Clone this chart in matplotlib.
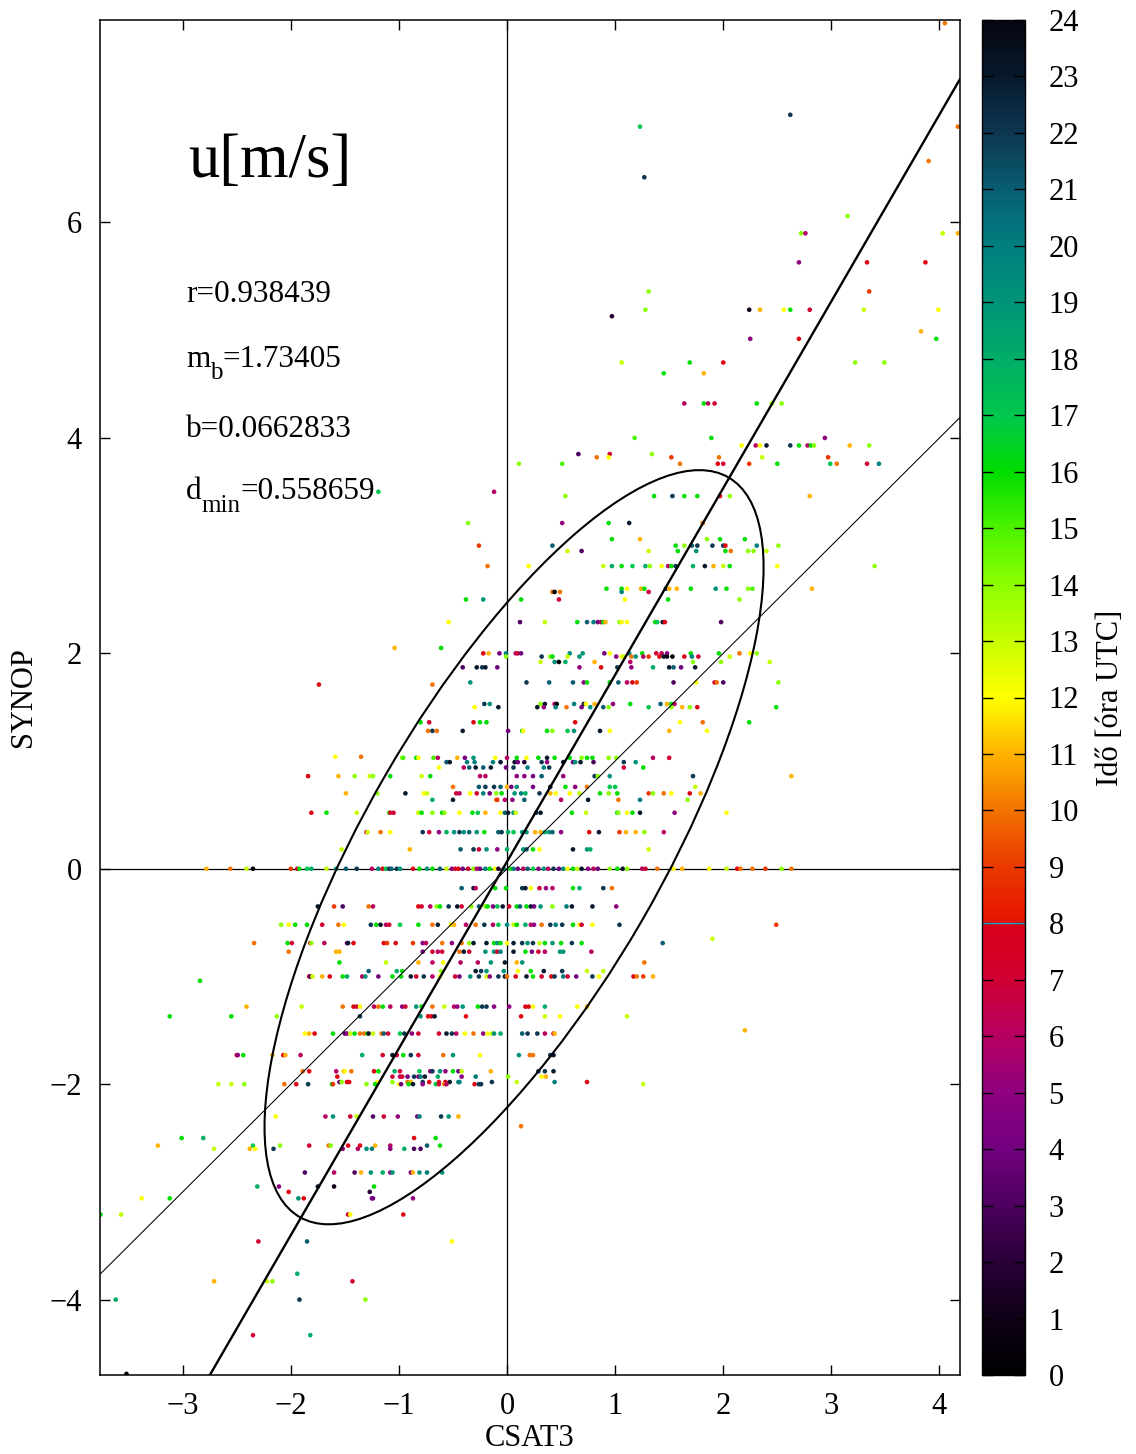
"""Scatter of CSAT3 vs SYNOP u wind component, coloured by hour of day."""

import numpy as np
import matplotlib
matplotlib.use("Agg")
import matplotlib.pyplot as plt
from matplotlib.cm import ScalarMappable
from matplotlib.colors import LinearSegmentedColormap, Normalize
from matplotlib.patches import Ellipse

plt.rcParams["font.family"] = ["Liberation Serif", "DejaVu Serif"]

# fit statistics
r_coef = 0.938439
m_b = 1.73405
b_icpt = 0.0662833
d_min = 0.558659

# spread ellipse of the point cloud (data units)
ell_center = (0.065, 0.2)
ell_width = 7.93
ell_height = 2.73
ell_angle = 60.0

# SYNOP values are quantised, so the points are stored row by row
synop_rows = [
    7.85, 7.0, 6.89, 6.57, 6.42, 6.06, 5.9, 5.63, 5.36, 5.19, 5.13, 4.99, 4.92, 4.7, 4.6, 4.32,
    4.0, 3.93, 3.85, 3.82, 3.76, 3.5, 3.46, 3.21, 3.06, 3.0, 2.95, 2.81, 2.6, 2.57, 2.5, 2.29,
    2.05, 2.0, 1.97, 1.92, 1.87, 1.73, 1.71, 1.53, 1.5, 1.36, 1.28, 1.04, 1.03, 0.99, 0.94,
    0.86, 0.76, 0.7, 0.64, 0.52, 0.34, 0.18, 0.0, -0.18, -0.35, -0.52, -0.65, -0.69, -0.77,
    -0.87, -0.95, -1.0, -1.04, -1.28, -1.37, -1.5, -1.53, -1.73, -1.88, -1.93, -1.98, -2.0,
    -2.3, -2.39, -2.5, -2.57, -2.6, -2.82, -2.95, -3.0, -3.06, -3.21, -3.46, -3.76, -3.83,
    -4.0, -4.33, -4.69,
]

csat3_rows = [
    [4.05],
    [2.62],
    [1.23, 4.17],
    [3.9],
    [1.27],
    [3.15],
    [2.72, 2.76, 4.03, 4.17],
    [2.7, 3.33, 3.87],
    [1.31, 3.35],
    [1.28, 2.24, 2.34, 2.56, 2.62, 2.8, 3.3, 3.99],
    [0.97],
    [3.83],
    [2.25, 2.7, 3.97],
    [1.06, 1.69, 2.0, 3.22, 3.49],
    [1.45, 1.82],
    [1.64, 1.82, 1.86, 1.92, 2.31, 2.45, 2.54],
    [1.18, 1.89, 2.94],
    [2.17, 2.3, 2.34, 2.4, 2.62, 2.7, 2.78, 2.81, 2.84, 3.17, 3.35],
    [0.66, 0.95, 1.34],
    [0.83, 0.94, 1.52, 1.96, 2.36, 2.97],
    [0.11, 0.51, 1.6, 1.95, 2.0, 2.24, 2.5, 2.99, 3.05, 3.33, 3.44],
    [-1.19, -0.12],
    [0.54, 1.36, 1.53, 1.64, 1.76, 1.97, 2.06, 2.8],
    [-0.36, 0.51, 0.94, 1.13, 1.81],
    [0.97, 1.23, 1.85, 1.97, 2.2],
    [-0.26, 0.42, 1.56, 1.64, 1.71, 1.76, 1.9, 2.0, 2.02, 2.31, 2.51],
    [0.56, 0.69, 1.31, 1.58, 1.75, 2.02, 2.07, 2.23, 2.28, 2.4],
    [-0.18, 0.2, 0.89, 0.97, 1.06, 1.16, 1.28, 1.32, 1.43, 1.49,
     1.52, 1.56, 1.72, 1.83, 1.91, 2.0, 2.06, 2.5, 3.4],
    [0.92, 1.06, 1.11, 1.24, 1.27, 1.47, 1.5, 1.57, 1.7, 1.93, 2.03, 2.23, 2.27, 2.82],
    [0.42, 0.44, 0.49, 1.06, 1.31],
    [-0.38, -0.22, 0.13, 0.48, 1.09, 1.49, 2.15],
    [-0.54, 0.12, 0.35, 0.65, 0.74, 0.8, 0.84, 0.87, 0.89, 0.91,
     1.04, 1.06, 1.11, 1.37, 1.39, 1.44, 1.46, 1.98],
    [-1.04, -0.61],
    [-0.22, -0.17, -0.07, -0.01, 0.08, 0.1, 0.13, 0.58, 0.7, 0.9,
     0.95, 1.13, 1.25, 1.38, 1.43, 1.48, 1.7, 1.96, 2.15, 2.25, 2.31],
    [-0.01, 0.32, 0.4, 0.42, 0.56, 0.67, 1.01, 1.06, 1.08, 1.15,
     1.19, 1.26, 1.31, 1.41, 1.45, 1.48, 1.53, 1.64, 1.71, 1.77, 2.06],
    [0.31, 0.44, 0.48, 0.54, 0.81, 1.14, 1.72, 1.98, 2.43],
    [-0.41, -0.28, -0.23, -0.2, -0.09, 0.67, 0.87, 1.02, 1.15, 1.35, 1.5, 1.54, 1.61, 1.74],
    [-0.34, 0.18, 0.39, 0.61, 0.71, 0.74, 0.95, 1.03, 1.11, 1.16,
     1.2, 1.54, 1.75, 1.92, 1.94, 2.0, 2.51],
    [-1.74, -0.69],
    [-0.21, -0.16, 0.31, 0.35, 0.44, 0.46, 0.62, 0.71, 0.73, 0.81,
     0.98, 1.14, 1.42, 1.48, 1.52, 1.55],
    [-0.3, -0.08, 0.28, 0.34, 0.45, 0.55, 0.69, 0.77, 0.89, 0.94,
     1.31, 1.52, 1.62, 1.69, 1.76, 2.49],
    [-0.8, -0.72, -0.31, -0.25, -0.19, 0.63, 1.6, 1.81, 2.24],
    [-0.73, -0.69, -0.65, -0.41, 0.01, 0.14, 0.15, 0.37, 0.42, 0.56,
     0.62, 0.86, 0.95, 1.5, 1.85],
    [-1.59, -1.35],
    [-0.97, -0.96, -0.84, -0.82, -0.68, -0.64, -0.46, -0.39, -0.31, -0.11,
     0.0, 0.09, 0.18, 0.29, 0.37, 0.44, 0.58, 0.69, 0.74, 0.79,
     0.94, 1.01, 1.35, 1.5],
    [-0.56, -0.53, -0.37, -0.3, -0.13, -0.06, 0.07, 0.1, 0.16, 0.32,
     0.37, 0.52, 0.61, 0.63, 0.68, 0.8, 1.08, 1.19],
    [-0.63, -0.4, -0.35, -0.29, -0.22, -0.15, -0.01, 0.06, 0.19, 0.34, 0.39, 1.08, 1.26],
    [-1.84, -1.56, -1.41, -1.27, -1.24, -1.08, -0.79, -0.71, -0.25, -0.2,
     0.09, 0.16, 0.24, 0.32, 0.52, 0.81, 0.84, 0.95, 1.72, 2.63],
    [-0.5, -0.26, -0.2, -0.12, -0.06, 0.0, 0.04, 0.09, 0.24, 0.4,
     0.54, 0.63, 0.74, 0.95, 1.0, 1.74],
    [-1.49, -1.2, -0.94, -0.77, -0.74, -0.47, -0.44, -0.34, -0.28, -0.22,
     -0.16, -0.1, -0.05, 0.07, 0.13, 0.17, 0.3, 0.4, 0.45, 0.58,
     0.67, 0.86, 0.94, 1.02, 1.31, 1.35, 1.45, 1.52, 1.69, 1.79],
    [-0.69, -0.5, -0.1, -0.09, -0.02, 0.05, 0.16, 0.5, 0.75, 1.03, 1.23, 1.67],
    [-1.81, -1.67, -1.39, -1.09, -1.08, -1.05, -0.82, -0.79, -0.69, -0.6,
     -0.58, -0.44, -0.32, -0.27, -0.2, -0.06, -0.02, 0.01, 0.06, 0.08,
     0.27, 0.31, 0.6, 0.73, 1.02, 1.03, 1.11, 1.16, 1.23, 1.55, 2.03],
    [-1.3, -1.29, -1.17, -1.08, -0.78, -0.72, -0.63, -0.56, -0.49, -0.44,
     -0.4, -0.35, -0.28, -0.21, -0.08, -0.05, 0.01, 0.06, 0.14, 0.18,
     0.26, 0.31, 0.35, 0.39, 0.42, 0.5, 0.76, 0.85, 1.04, 1.1,
     1.19, 1.27, 1.45],
    [-1.53, -0.9, -0.43, -0.31, -0.26, -0.19, -0.09, 0.0, 0.15, 0.18,
     0.24, 0.3, 0.61, 0.74, 0.77, 1.31],
    [-2.78, -2.56, -2.41, -2.35, -2.0, -1.94, -1.92, -1.85, -1.81, -1.67,
     -1.58, -1.49, -1.39, -1.25, -1.19, -1.15, -1.12, -1.09, -1.07, -1.02,
     -0.99, -0.87, -0.81, -0.74, -0.69, -0.62, -0.56, -0.51, -0.48, -0.45,
     -0.41, -0.36, -0.31, -0.28, -0.25, -0.2, -0.16, -0.11, -0.08, -0.03,
     0.03, 0.06, 0.1, 0.15, 0.19, 0.24, 0.29, 0.34, 0.38, 0.43,
     0.48, 0.52, 0.56, 0.61, 0.65, 0.69, 0.75, 0.8, 0.84, 0.95,
     1.02, 1.07, 1.11, 1.25, 1.28, 1.39, 1.54, 1.62, 1.87, 2.03,
     2.13, 2.16, 2.27, 2.39, 2.54, 2.63],
    [-0.42, -0.31, -0.29, -0.11, -0.01, 0.14, 0.17, 0.22, 0.3, 0.36,
     0.42, 0.61, 0.67, 0.89, 0.97],
    [-1.75, -1.6, -1.52, -1.28, -1.24, -0.82, -0.79, -0.71, -0.65, -0.62,
     -0.54, -0.46, -0.42, -0.33, -0.26, -0.2, -0.18, -0.13, -0.09, -0.04,
     0.02, 0.09, 0.12, 0.18, 0.22, 0.25, 0.31, 0.42, 0.55, 0.6,
     0.79, 1.01],
    [-2.09, -2.02, -1.96, -1.85, -1.71, -1.56, -1.51, -1.26, -1.21, -1.17,
     -1.12, -1.09, -0.99, -0.82, -0.69, -0.64, -0.52, -0.49, -0.38, -0.29,
     -0.21, -0.13, -0.08, 0.0, 0.06, 0.09, 0.17, 0.22, 0.25, 0.32,
     0.4, 0.45, 0.51, 0.61, 0.67, 0.69, 0.79, 1.04, 2.49],
    [1.9],
    [-2.34, -2.03, -1.99, -1.82, -1.81, -1.69, -1.48, -1.47, -1.42, -1.14,
     -1.11, -1.03, -0.87, -0.78, -0.75, -0.6, -0.51, -0.42, -0.35, -0.31,
     -0.19, -0.12, -0.09, -0.06, 0.0, 0.06, 0.14, 0.19, 0.24, 0.3,
     0.35, 0.42, 0.5, 0.6, 0.69, 1.44],
    [-2.02, -1.58, -1.55, -0.78, -0.69, -0.64, -0.6, -0.44, -0.4, -0.35,
     -0.2, -0.12, -0.09, -0.06, 0.06, 0.17, 0.23, 0.29, 0.35, 0.49,
     0.52, 0.78],
    [-1.55, -1.12, -0.82, -0.69, -0.59, -0.43, -0.27, -0.15, -0.02, 0.09, 0.14, 1.27],
    [-1.28, -1.02, -0.97, -0.61, -0.29, -0.24, -0.19, -0.03, 0.1, 0.22,
     0.34, 0.51, 0.74, 0.89],
    [-1.83, -1.82, -1.8, -1.71, -1.64, -1.52, -1.48, -1.34, -1.31, -1.19,
     -1.06, -0.98, -0.89, -0.84, -0.77, -0.69, -0.62, -0.48, -0.44, -0.34,
     -0.26, -0.19, -0.16, -0.08, -0.02, 0.0, 0.08, 0.18, 0.24, 0.32,
     0.41, 0.44, 0.52, 0.56, 0.64, 0.79, 0.85, 1.17, 1.2, 1.26,
     1.35],
    [-2.84],
    [-2.41, -1.9, -1.52, -1.42, -1.39, -1.36, -1.23, -1.19, -1.15, -1.08,
     -0.97, -0.94, -0.84, -0.79, -0.69, -0.58, -0.49, -0.46, -0.41, -0.27,
     -0.23, -0.19, -0.12, 0.02, 0.17, 0.2, 0.24, 0.35, 0.65, 0.74],
    [-3.12, -2.55, -2.13, -1.36, -0.8, -0.73, -0.7, -0.67, -0.38, 0.13, 0.35, 0.49, 1.11],
    [2.2],
    [-1.87, -1.83, -1.78, -1.61, -1.5, -1.48, -1.45, -1.41, -1.36, -1.32,
     -1.29, -1.28, -1.24, -1.16, -1.14, -1.1, -0.99, -0.95, -0.88, -0.82,
     -0.63, -0.56, -0.51, -0.47, -0.39, -0.31, -0.22, -0.18, -0.14, -0.12,
     -0.06, 0.14, 0.19, 0.28, 0.35, 0.43, 0.44],
    [-2.5, -2.49, -2.44, -2.17, -2.07, -2.05, -1.91, -1.34, -1.15, -1.06,
     -1.02, -0.96, -0.89, -0.82, -0.59, -0.5, -0.25, 0.11, 0.21, 0.24,
     0.4, 0.43],
    [-1.89, -1.83, -1.58, -1.51, -1.5, -1.44, -1.23, -1.19, -1.04, -0.99,
     -0.81, -0.71, -0.69, -0.62, -0.57, -0.5, -0.45, -0.42, -0.15, 0.29,
     0.35, 0.43],
    [-1.57, -1.06, -0.99, -0.97, -0.92, -0.86, -0.82, -0.8, -0.76, -0.64,
     -0.42, -0.29, 0.01, 0.32, 0.36],
    [-1.55, -1.53, -1.48, -1.46, -1.2, -1.06, -0.92, -0.89, -0.78, -0.72,
     -0.63, -0.57, -0.53, -0.45, -0.44, -0.14, 0.09, 0.44, 0.74],
    [-2.67, -2.55, -2.43, -2.06, -1.95, -1.84, -1.62, -1.61, -1.3, -1.22,
     -1.0, -0.98, -0.91, -0.87, -0.78, -0.66, -0.63, -0.58, -0.56, -0.3,
     -0.26, -0.24, 1.26],
    [-2.14, -1.68, -1.61, -1.45, -1.39, -1.24, -1.14, -1.01, -0.83, -0.81,
     -0.61, -0.54, -0.45],
    [0.13],
    [-3.01, -2.81, -0.86, -0.66],
    [-3.23, -2.35, -2.1, -1.83, -1.65, -1.63, -1.47, -1.36, -1.22, -1.08, -0.74, -0.62],
    [-2.71, -2.38, -2.33, -2.16, -1.52, -1.38, -1.3, -1.25, -1.08, -0.95, -0.86, -0.8],
    [-1.87, -1.6, -1.41, -1.35, -1.26, -1.15, -1.08, -1.06, -0.89, -0.87,
     -0.81, -0.74, -0.6],
    [-2.31, -2.11, -1.75, -1.6, -1.23],
    [-2.02, -1.27],
    [-3.38, -3.12, -1.93, -1.88, -1.25, -1.24, -0.87],
    [-3.76, -3.57, -1.47, -1.45, -0.96],
    [-2.3, -1.85, -0.51],
    [-1.94],
    [-2.71, -2.22, -2.17, -1.43],
    [-3.62, -1.92, -1.31],
    [-2.35, -1.82],
    [-3.52],
]

hour_rows = [
    [10],
    [22],
    [17, 10],
    [10],
    [22],
    [14],
    [14, 6, 13, 11],
    [5, 8, 8],
    [14, 9],
    [14, 1, 11, 12, 16, 7, 13, 12],
    [2],
    [11],
    [5, 8, 16],
    [13, 16, 8, 14, 14],
    [16, 11],
    [6, 16, 6, 7, 16, 14, 14],
    [15, 16, 5],
    [12, 6, 12, 23, 22, 16, 6, 16, 14, 11, 14],
    [3, 7, 14],
    [10, 12, 9, 10, 13, 9],
    [14, 15, 10, 8, 7, 9, 16, 17, 10, 7, 20],
    [17, 6],
    [14, 16, 22, 16, 16, 8, 14, 11],
    [14, 5, 16, 23, 10],
    [16, 11, 14, 16, 16],
    [9, 21, 16, 14, 21, 22, 22, 22, 8, 20, 14],
    [13, 3, 13, 16, 19, 16, 10, 14, 14, 13],
    [10, 12, 13, 18, 16, 17, 18, 14, 12, 6,
     16, 22, 18, 23, 11, 13, 16, 12, 14],
    [16, 16, 12, 11, 16, 22, 11, 11, 16, 19, 16, 14, 15, 11],
    [10, 0, 10, 20, 7],
    [16, 19, 16, 7, 12, 16, 14],
    [12, 3, 13, 16, 21, 20, 4, 6, 16, 11,
     14, 12, 12, 16, 17, 23, 8, 3],
    [11, 16],
    [8, 11, 4, 20, 6, 7, 4, 19, 19, 4,
     12, 20, 16, 7, 6, 5, 16, 16, 10, 12, 14],
    [14, 22, 14, 16, 13, 19, 5, 12, 13, 10,
     19, 6, 9, 8, 23, 1, 0, 8, 20, 7, 13],
    [13, 19, 0, 18, 11, 6, 14, 14, 13],
    [3, 23, 22, 23, 4, 5, 8, 22, 5, 18, 23, 21, 4, 23],
    [19, 22, 21, 21, 5, 16, 16, 21, 6, 8,
     9, 3, 12, 7, 10, 3, 14],
    [8, 10],
    [22, 19, 14, 23, 6, 0, 20, 23, 12, 11,
     5, 16, 21, 11, 16, 6],
    [12, 23, 23, 5, 20, 10, 4, 19, 21, 14,
     17, 14, 11, 14, 8, 16],
    [16, 7, 8, 16, 16, 8, 12, 10, 16],
    [10, 22, 10, 23, 4, 16, 12, 16, 14, 17,
     19, 23, 12, 11, 12],
    [12, 10],
    [14, 15, 16, 12, 15, 6, 11, 4, 19, 12,
     6, 16, 12, 16, 23, 16, 16, 14, 16, 16,
     14, 14, 6, 7],
    [21, 23, 20, 20, 20, 23, 23, 4, 2, 22,
     5, 23, 4, 19, 23, 3, 22, 19],
    [12, 6, 21, 23, 21, 23, 4, 22, 20, 20, 22, 7, 16],
    [8, 11, 14, 13, 14, 16, 13, 16, 6, 6,
     5, 5, 4, 21, 5, 22, 14, 19, 22, 11],
    [10, 21, 22, 22, 21, 11, 4, 19, 4, 23,
     16, 5, 10, 17, 17, 13],
    [11, 14, 23, 12, 13, 7, 6, 12, 7, 20,
     4, 14, 16, 19, 20, 18, 22, 11, 12, 12,
     13, 16, 14, 16, 9, 14, 10, 12, 8, 11],
    [18, 23, 10, 9, 6, 5, 21, 6, 23, 10, 20, 14],
    [8, 16, 13, 15, 7, 7, 13, 16, 14, 16,
     14, 12, 16, 17, 11, 12, 21, 23, 19, 13,
     22, 23, 16, 13, 16, 14, 12, 16, 23, 5, 12],
    [7, 13, 10, 12, 22, 7, 5, 18, 19, 22,
     19, 21, 19, 16, 21, 22, 18, 17, 19, 19,
     11, 11, 18, 19, 21, 5, 8, 23, 9, 11,
     11, 14, 6],
    [13, 11, 21, 22, 7, 19, 5, 18, 19, 21,
     16, 12, 23, 19, 18, 13],
    [11, 10, 13, 0, 9, 7, 16, 17, 18, 13,
     19, 21, 22, 6, 20, 8, 17, 22, 21, 22,
     19, 8, 16, 19, 16, 21, 13, 5, 7, 8,
     4, 7, 14, 6, 4, 20, 16, 12, 2, 19,
     16, 20, 4, 6, 21, 17, 5, 19, 6, 22,
     4, 19, 12, 16, 13, 23, 5, 6, 4, 14,
     16, 23, 14, 6, 7, 10, 12, 11, 12, 13,
     8, 10, 10, 9, 14, 10],
    [21, 23, 6, 16, 16, 22, 23, 12, 7, 5,
     6, 16, 18, 22, 10],
    [23, 9, 3, 10, 6, 8, 7, 6, 14, 16,
     22, 23, 7, 14, 21, 14, 16, 4, 17, 23,
     7, 16, 21, 16, 23, 4, 19, 14, 20, 23,
     23, 5],
    [14, 12, 16, 16, 7, 10, 12, 22, 16, 23,
     6, 7, 17, 16, 10, 23, 12, 11, 6, 10,
     22, 6, 17, 19, 13, 16, 18, 6, 5, 10,
     22, 20, 22, 16, 12, 7, 12, 22, 9],
    [13],
    [10, 16, 7, 8, 14, 6, 4, 23, 8, 8,
     9, 8, 9, 5, 6, 10, 5, 10, 14, 23,
     23, 16, 19, 16, 12, 23, 22, 19, 22, 13,
     16, 19, 16, 22, 16, 21],
    [10, 11, 11, 4, 7, 6, 7, 10, 23, 7,
     19, 19, 7, 20, 23, 16, 4, 7, 6, 19,
     19, 6],
    [16, 13, 11, 6, 12, 6, 6, 19, 23, 11, 19, 10],
    [21, 18, 16, 14, 23, 22, 19, 19, 12, 16,
     23, 22, 13, 13],
    [8, 3, 13, 11, 8, 16, 18, 6, 19, 4,
     16, 16, 23, 7, 22, 6, 12, 7, 4, 19,
     22, 13, 5, 22, 23, 10, 8, 23, 16, 7,
     8, 22, 20, 7, 4, 22, 12, 8, 10, 9,
     11],
    [16],
    [11, 13, 10, 8, 7, 12, 6, 10, 16, 6,
     5, 7, 19, 16, 10, 13, 6, 5, 19, 16,
     22, 22, 5, 5, 8, 8, 12, 18, 12, 11],
    [16, 16, 14, 22, 19, 8, 8, 23, 8, 8, 13, 12, 13],
    [11],
    [12, 11, 8, 16, 3, 5, 13, 16, 10, 10,
     16, 23, 13, 10, 21, 7, 17, 22, 5, 7,
     7, 23, 22, 6, 12, 10, 5, 12, 13, 19,
     18, 21, 22, 22, 6, 7, 11],
    [7, 5, 16, 11, 8, 11, 6, 18, 7, 23,
     7, 16, 22, 7, 10, 19, 12, 19, 10, 10,
     22, 23],
    [10, 8, 6, 11, 12, 10, 8, 16, 18, 7,
     17, 5, 22, 19, 5, 16, 4, 13, 11, 22,
     22, 23],
    [8, 7, 6, 7, 4, 22, 5, 20, 23, 18,
     5, 20, 14, 12, 11],
    [4, 14, 8, 8, 12, 14, 10, 11, 22, 8,
     8, 8, 23, 20, 20, 22, 13, 20, 8],
    [13, 13, 14, 10, 8, 22, 16, 9, 14, 16,
     12, 4, 16, 23, 5, 17, 7, 10, 6, 8,
     22, 22, 13],
    [12, 6, 19, 7, 13, 3, 7, 5, 4, 20,
     22, 19, 11],
    [10],
    [16, 18, 8, 16],
    [11, 17, 14, 7, 10, 14, 8, 8, 11, 6, 21, 16],
    [13, 11, 12, 22, 5, 6, 19, 20, 5, 18, 3, 3],
    [3, 6, 3, 11, 19, 18, 5, 19, 5, 11,
     19, 20, 19],
    [18, 5, 23, 1, 16],
    [8, 2],
    [12, 16, 19, 8, 4, 4, 5],
    [16, 13, 7, 12, 8],
    [7, 21, 12],
    [18],
    [11, 13, 14, 7],
    [18, 22, 14],
    [7, 18],
    [0],
]

# hour -> colour nodes of the palette (sharp step at 8 UTC)
palette_hours = [0, 1, 2, 3, 4, 5, 6, 7, 7.97, 8.03, 9, 10, 11, 12,
                 13, 14, 15, 16, 17, 18, 19, 20, 21, 22, 23, 24]
palette_colors = [
    (0.0, 0.0, 0.0), (0.06, 0.0, 0.09), (0.16, 0.0, 0.22), (0.3, 0.0, 0.37),
    (0.45, 0.0, 0.5), (0.56, 0.0, 0.5), (0.72, 0.0, 0.38), (0.82, 0.0, 0.2),
    (0.86, 0.0, 0.1), (0.9, 0.08, 0.0), (0.92, 0.22, 0.0), (0.95, 0.45, 0.0),
    (1.0, 0.7, 0.0), (1.0, 1.0, 0.0), (0.78, 1.0, 0.0), (0.55, 1.0, 0.0),
    (0.3, 0.95, 0.0), (0.0, 0.87, 0.0), (0.0, 0.78, 0.3), (0.0, 0.68, 0.4),
    (0.0, 0.58, 0.47), (0.0, 0.5, 0.5), (0.03, 0.37, 0.45), (0.05, 0.22, 0.32),
    (0.03, 0.1, 0.18), (0.02, 0.02, 0.06),
]


def build_points():
    xs, ys, hs = [], [], []
    for level, row_x, row_h in zip(synop_rows, csat3_rows, hour_rows):
        if len(row_x) != len(row_h):
            raise ValueError(f"row {level}: {len(row_x)} x values, {len(row_h)} hours")
        xs.extend(row_x)
        ys.extend([level] * len(row_x))
        hs.extend(row_h)
    return np.array(xs), np.array(ys), np.array(hs, dtype=float)


def subscript_label(ax, ypos, head, sub, tail, size=22.5, sub_size=18, drop=-7):
    """Write head_sub + tail with a gnuplot-like (large, low) subscript."""
    t_head = ax.text(0.1, ypos, head, transform=ax.transAxes, fontsize=size, va="bottom")
    t_sub = ax.annotate(sub, xy=(1, 0), xycoords=t_head, xytext=(0, drop),
                        textcoords="offset points", fontsize=sub_size, va="bottom")
    ax.annotate(tail, xy=(1, 0), xycoords=(t_sub, t_head), fontsize=size, va="bottom")


def main():
    x, y, h = build_points()

    cmap = LinearSegmentedColormap.from_list(
        "hours", [(v / 24.0, c) for v, c in zip(palette_hours, palette_colors)], N=512)
    norm = Normalize(0, 24)

    fig = plt.figure(figsize=(11.36, 14.54), dpi=100)
    bottom = 1 - 1375 / 1454
    height = 1355 / 1454
    ax = fig.add_axes([100 / 1136, bottom, 860 / 1136, height])
    cax = fig.add_axes([982 / 1136, bottom, 43 / 1136, height])

    ax.axhline(0, color="black", lw=0.9, zorder=1)
    ax.axvline(0, color="black", lw=0.9, zorder=1)
    ax.scatter(x, y, c=h, cmap=cmap, norm=norm, s=11, linewidths=0, zorder=2)

    ax.axline((0, 0), slope=1.0, color="black", lw=0.75, zorder=3)
    ax.axline((0, b_icpt), slope=m_b, color="black", lw=1.7, zorder=3)
    ax.add_patch(Ellipse(ell_center, ell_width, ell_height, angle=ell_angle,
                         fill=False, ec="black", lw=1.5, zorder=3))

    ax.set_xlim(-3.765, 4.19)
    ax.set_ylim(-4.70, 7.88)
    ax.set_xticks(range(-3, 5))
    ax.set_yticks(range(-4, 7, 2))
    ax.tick_params(direction="in", top=True, right=True, length=7, width=1, labelsize=22)
    ax.tick_params(axis="x", pad=12)
    ax.tick_params(axis="y", pad=13)
    for spine in ax.spines.values():
        spine.set_linewidth(1.1)

    ax.set_xlabel("CSAT3", fontsize=22)
    ax.xaxis.set_label_coords(0.5, -0.036)
    ax.set_ylabel("SYNOP", fontsize=22)
    ax.yaxis.set_label_coords(-0.072, 0.5)

    ax.text(0.102, 0.884, "u[m/s]", transform=ax.transAxes, fontsize=45, va="baseline")
    # text boxes are bottom-anchored, so shift by the font descent
    descent = 0.0052
    ax.text(0.1, 0.792 - descent, f"r={r_coef}", transform=ax.transAxes,
            fontsize=22.5, va="bottom")
    subscript_label(ax, 0.744 - descent, "m", "b", f"={m_b}")
    ax.text(0.1, 0.692 - descent, f"b={b_icpt}", transform=ax.transAxes,
            fontsize=22.5, va="bottom")
    subscript_label(ax, 0.6465 - descent, "d", "min", f"={d_min}", drop=-8)

    cb = fig.colorbar(ScalarMappable(norm=norm, cmap=cmap), cax=cax)
    cb.set_ticks(range(0, 25))
    cb.outline.set_linewidth(1.0)
    cax.axhline(8, color=(0.1, 0.65, 0.75), lw=1.0)
    cax.tick_params(axis="y", direction="in", left=True, right=True, length=8,
                    width=1, labelsize=22, pad=17)
    cb.set_label("Idő [óra UTC]", fontsize=22, labelpad=12)

    fig.savefig("out.png", dpi=100)
    plt.close(fig)


if __name__ == "__main__":
    main()
